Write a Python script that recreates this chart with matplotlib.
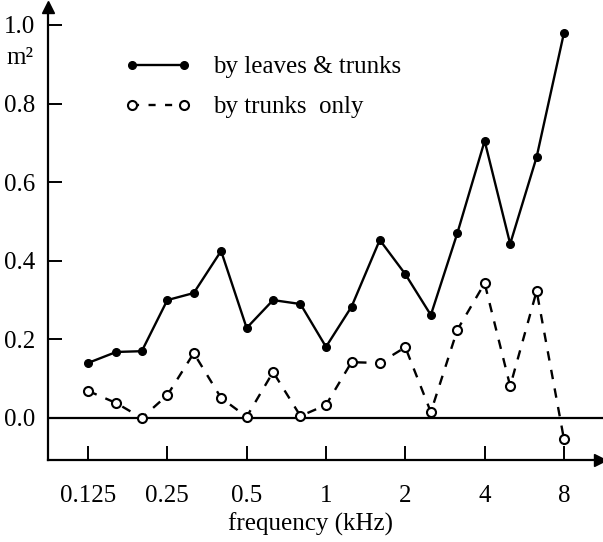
import matplotlib
matplotlib.use("Agg")
import matplotlib.pyplot as plt
from matplotlib.lines import Line2D

plt.rcParams['font.family'] = ['Liberation Serif', 'DejaVu Serif']

# 1/3-octave band centre frequencies (kHz)
freq = [0.125, 0.16, 0.2, 0.25, 0.315, 0.4, 0.5, 0.63, 0.8, 1.0,
        1.25, 1.6, 2.0, 2.5, 3.15, 4.0, 5.0, 6.3, 8.0]
leaves_trunks = [0.14, 0.168, 0.17, 0.30, 0.318, 0.425, 0.229, 0.30, 0.29, 0.181,
                 0.283, 0.453, 0.366, 0.262, 0.47, 0.705, 0.443, 0.664, 0.98]
trunks_only = [0.069, 0.038, 0.0, 0.058, 0.165, 0.051, 0.003, 0.117, 0.005, 0.033,
               0.142, 0.14, 0.18, 0.015, 0.224, 0.343, 0.081, 0.323, -0.054]
xticks = [0.125, 0.25, 0.5, 1, 2, 4, 8]
xticklabels = ["0.125", "0.25", "0.5", "1", "2", "4", "8"]
yticks = [0.0, 0.2, 0.4, 0.6, 0.8, 1.0]
yticklabels = ["0.0", "0.2", "0.4", "0.6", "0.8", "1.0"]

FS = 18
W, H = 603, 542
fig = plt.figure(figsize=(W / 100, H / 100), dpi=100)
# axes box in pixels: left 48, right 603, top 7, bottom 460
ax = fig.add_axes([48 / W, (H - 460) / H, (603 - 48) / W, (460 - 7) / H])

ax.set_xscale('log', base=2)
ax.set_xlim(2 ** -3.504, 2 ** 3.492)
ax.set_ylim(-0.1069, 1.0458)

ax.plot(freq, leaves_trunks, '-', color='black', lw=1.7,
        marker='o', ms=5.5, mfc='black', mec='black')
ax.plot(freq, trunks_only, '--', color='black', lw=1.7, dashes=(4, 4),
        marker='o', ms=6.5, mfc='white', mec='black', mew=1.5)

ax.axhline(0, color='black', lw=1.6, zorder=1)

for side in ('top', 'right'):
    ax.spines[side].set_visible(False)
for side in ('left', 'bottom'):
    ax.spines[side].set_linewidth(1.6)

# axis arrows
ax.plot(0, 1, marker='^', color='black', ms=8, transform=ax.transAxes, clip_on=False)
ax.plot(0.995, 0, marker='>', color='black', ms=8, transform=ax.transAxes, clip_on=False)

ax.set_xticks(xticks)
ax.set_xticklabels(xticklabels)
ax.xaxis.set_minor_locator(matplotlib.ticker.NullLocator())
ax.set_yticks(yticks)
ax.set_yticklabels(yticklabels)
ax.tick_params(axis='x', direction='in', length=10, width=1.4, pad=18, labelsize=FS)
ax.tick_params(axis='y', direction='in', length=10, width=1.4, pad=9, labelsize=FS)

ax.set_xlabel("frequency (kHz)", fontsize=FS)
ax.xaxis.set_label_coords((311 - 48) / 555, -0.115)

fig.text(20 / W, 1 - 58 / H, "m²", fontsize=FS, ha='center', va='center')

handles = [
    Line2D([], [], color='black', lw=1.7, marker='o', ms=5.5, mfc='black'),
    Line2D([], [], color='black', lw=1.7, ls='--', dashes=(3, 4), marker='o', ms=6.5,
           mfc='white', mec='black', mew=1.5),
]
fig.legend(handles, ["by leaves & trunks", "by trunks  only"],
           loc='upper left', bbox_to_anchor=(124 / W, 1 - 56 / H),
           frameon=False, fontsize=FS, numpoints=2, handlelength=2.7,
           handletextpad=0.85, labelspacing=0.7, borderpad=0, borderaxespad=0)

fig.savefig("out.png", dpi=100)
